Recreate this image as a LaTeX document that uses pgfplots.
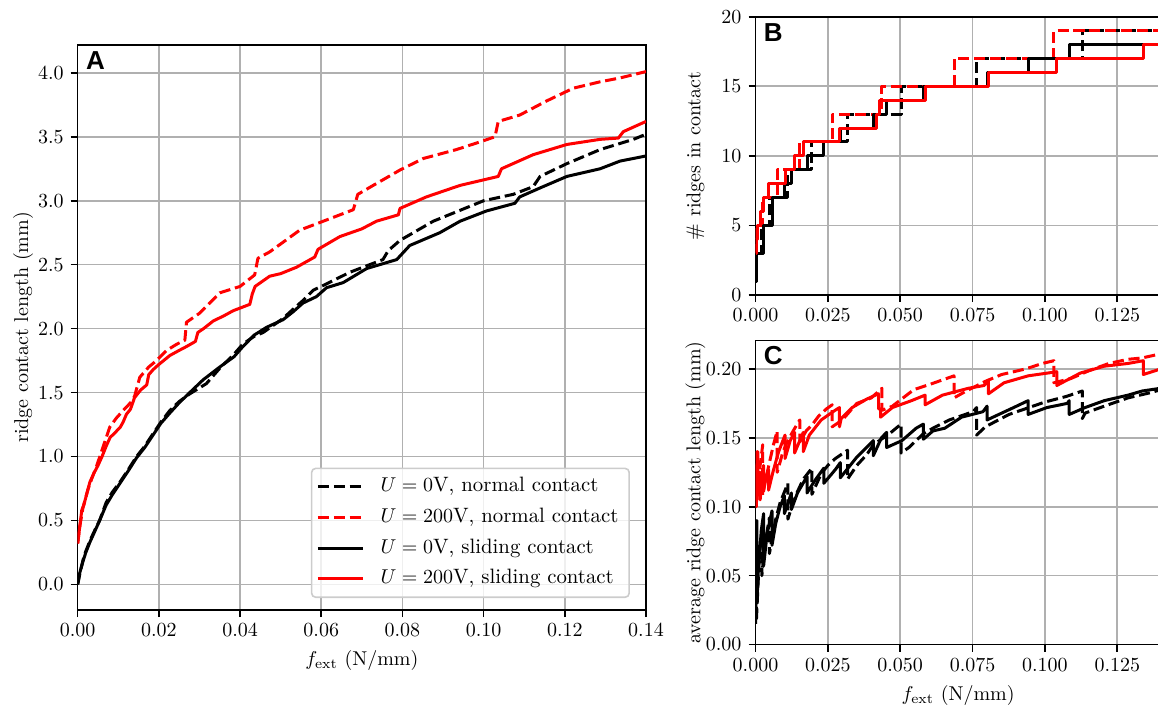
\documentclass[border=0pt]{standalone}
\usepackage{fontspec}
\usepackage{pgfplots}
\pgfplotsset{compat=1.18}
\newfontfamily\lblfont{Liberation Sans}
\definecolor{gridgray}{RGB}{176,176,176}
\definecolor{legedge}{RGB}{204,204,204}
\pgfplotsset{
  every axis/.append style={
    scale only axis,
    axis line style={line width=0.8pt},
    tick align=outside,
    major tick length=3.5pt,
    major tick style={line width=0.8pt,black},
    xtick pos=bottom, ytick pos=left,
    grid=major,
    grid style={line width=0.8pt, gridgray},
    scaled ticks=false,
    tick label style={font=\fontsize{10}{12}\selectfont},
    label style={font=\fontsize{10}{12}\selectfont},
  },
  legend image code/.code={\draw[#1] (0cm,0cm) -- (0.8cm,0cm);},
  bd/.style={black, line width=1.5pt, dash pattern=on 5.55pt off 2.4pt, line join=round},
  rd/.style={red, line width=1.5pt, dash pattern=on 5.55pt off 2.4pt, line join=round},
  bs/.style={black, line width=1.5pt, line join=round},
  rs/.style={red, line width=1.5pt, line join=round},
}
\tikzset{panellbl/.style={anchor=north west, inner sep=0pt, xshift=4pt, yshift=-3.3pt, font=\lblfont\bfseries\fontsize{13}{13}\selectfont}}
\begin{document}
\begin{tikzpicture}
% ---------------- Panel A ----------------
\begin{axis}[
  at={(38.85pt,-305pt)}, anchor=south west,
  width=284.15pt, height=282.65pt,
  xmin=0, xmax=0.14, ymin=-0.2, ymax=4.22,
  xtick={0,0.02,0.04,0.06,0.08,0.1,0.12,0.14},
  ytick={0,0.5,1,1.5,2,2.5,3,3.5,4},
  xticklabel style={/pgf/number format/.cd,fixed,fixed zerofill,precision=2},
  yticklabel style={/pgf/number format/.cd,fixed,fixed zerofill,precision=1},
  xlabel={$f_{\mathrm{ext}}$ (N/mm)},
  ylabel={ridge contact length (mm)},
  ylabel style={at={([xshift=-24.8pt]rel axis cs:0,0.5)}, anchor=base},
  legend cell align=left,
  legend style={at={(rel axis cs:0.9718,0.0212)}, anchor=south east,
    draw=legedge, line width=0.8pt, rounded corners=2pt, fill=white,
    fill opacity=0.8, text opacity=1, inner xsep=2.4pt, inner ysep=1.6pt, column sep=4.8pt,
    font=\fontsize{10.4}{12.5}\selectfont,
    nodes={inner xsep=3pt, inner ysep=2.65pt, text height=7.5pt, text depth=2.5pt}},
]
\addplot[bd] coordinates {(0,0)(0.0005,0.08)(0.0013,0.19)(0.002,0.26)(0.003,0.34)(0.004,0.41)(0.0054,0.5)(0.007,0.64)(0.0085,0.72)(0.0104,0.8)(0.0125,0.9)(0.0145,1.0)(0.0165,1.08)(0.0186,1.18)(0.0205,1.27)(0.0227,1.36)(0.025,1.43)(0.0276,1.49)(0.0317,1.57)(0.035,1.69)(0.0385,1.8)(0.0407,1.88)(0.0435,1.94)(0.0457,1.97)(0.0506,2.08)(0.053,2.15)(0.0555,2.22)(0.058,2.3)(0.0613,2.35)(0.067,2.44)(0.0752,2.54)(0.0765,2.61)(0.0794,2.69)(0.0876,2.84)(0.1,3.0)(0.1073,3.05)(0.1122,3.11)(0.1139,3.19)(0.1205,3.29)(0.1287,3.4)(0.1369,3.48)(0.14,3.52)};
\addlegendentry{$U=0$V, normal contact}
\addplot[rd] coordinates {(0,0.32)(0.0005,0.45)(0.0013,0.6)(0.0025,0.74)(0.0035,0.83)(0.0046,0.92)(0.0062,1.07)(0.0079,1.23)(0.0095,1.3)(0.0112,1.36)(0.013,1.42)(0.014,1.47)(0.0153,1.62)(0.0175,1.7)(0.0194,1.75)(0.0219,1.83)(0.0245,1.88)(0.0264,1.91)(0.0268,2.05)(0.03,2.12)(0.0325,2.2)(0.035,2.28)(0.04,2.33)(0.0436,2.42)(0.0444,2.55)(0.0473,2.6)(0.0547,2.77)(0.0605,2.84)(0.0679,2.93)(0.069,3.05)(0.0728,3.12)(0.0794,3.24)(0.0851,3.33)(0.0933,3.4)(0.0991,3.46)(0.1028,3.5)(0.1036,3.62)(0.1089,3.67)(0.1155,3.78)(0.1221,3.88)(0.1287,3.93)(0.1336,3.96)(0.14,4.01)};
\addlegendentry{$U=200$V, normal contact}
\addplot[bs] coordinates {(0,0)(0.0005,0.09)(0.0013,0.18)(0.002,0.25)(0.003,0.33)(0.004,0.4)(0.0054,0.5)(0.007,0.62)(0.0085,0.7)(0.0104,0.79)(0.0125,0.89)(0.0145,0.99)(0.0165,1.07)(0.0186,1.17)(0.0205,1.26)(0.0227,1.34)(0.025,1.42)(0.0276,1.5)(0.0309,1.6)(0.035,1.7)(0.0385,1.78)(0.0407,1.86)(0.0435,1.95)(0.0465,2.01)(0.0506,2.07)(0.053,2.13)(0.0555,2.2)(0.0588,2.25)(0.0613,2.32)(0.0654,2.36)(0.0712,2.47)(0.0786,2.54)(0.0818,2.65)(0.0892,2.75)(0.0942,2.84)(0.1007,2.92)(0.1077,2.98)(0.1089,3.03)(0.1139,3.1)(0.1205,3.19)(0.1287,3.25)(0.1336,3.31)(0.14,3.35)};
\addlegendentry{$U=0$V, sliding contact}
\addplot[rs] coordinates {(0,0.32)(0.0005,0.45)(0.001,0.58)(0.0015,0.62)(0.002,0.68)(0.0025,0.74)(0.003,0.8)(0.004,0.87)(0.005,0.93)(0.006,1.0)(0.007,1.08)(0.008,1.15)(0.009,1.18)(0.0105,1.23)(0.0112,1.27)(0.012,1.33)(0.013,1.37)(0.014,1.46)(0.0155,1.52)(0.017,1.56)(0.0175,1.64)(0.0186,1.68)(0.02,1.72)(0.0227,1.79)(0.025,1.83)(0.0268,1.86)(0.029,1.9)(0.0296,1.97)(0.031,2.0)(0.0334,2.06)(0.036,2.1)(0.0383,2.14)(0.0424,2.19)(0.043,2.27)(0.0437,2.33)(0.0473,2.41)(0.05,2.43)(0.0539,2.48)(0.0584,2.56)(0.0592,2.62)(0.0646,2.72)(0.07,2.78)(0.0736,2.84)(0.079,2.89)(0.0794,2.94)(0.0859,3.03)(0.0942,3.12)(0.1036,3.19)(0.1044,3.25)(0.1122,3.36)(0.1205,3.44)(0.1287,3.48)(0.1332,3.49)(0.1344,3.54)(0.14,3.62)};
\addlegendentry{$U=200$V, sliding contact}
\node[panellbl] at (rel axis cs:0,1) {A};
\end{axis}
% ---------------- Panel B ----------------
\begin{axis}[
  at={(377.75pt,-147.5pt)}, anchor=south west,
  width=202.6pt, height=139.15pt,
  xmin=0, xmax=0.14, ymin=0, ymax=20,
  xtick={0,0.025,0.05,0.075,0.1,0.125},
  ytick={0,5,10,15,20},
  xticklabel style={/pgf/number format/.cd,fixed,fixed zerofill,precision=3},
  ylabel={\# ridges in contact},
  ylabel style={at={([xshift=-27.6pt]rel axis cs:0,0.5)}, anchor=base},
]
\addplot[bd, const plot] coordinates {(0,1)(0.0003,3)(0.0022,5)(0.0048,7)(0.0112,9)(0.0195,11)(0.0318,13)(0.0503,15)(0.0764,17)(0.1129,19)(0.14,19)};
\addplot[rd, const plot] coordinates {(0,3)(0.0005,5)(0.0025,7)(0.0075,9)(0.0153,11)(0.0265,13)(0.0437,15)(0.0686,17)(0.1031,19)(0.14,19)};
\addplot[bs, const plot] coordinates {(0,1)(0.0005,3)(0.0028,5)(0.0057,7)(0.010,8)(0.0124,9)(0.0178,10)(0.0236,11)(0.0293,12)(0.0407,13)(0.0453,14)(0.058,15)(0.080,16)(0.0942,17)(0.1084,18)(0.14,18)};
\addplot[rs, const plot] coordinates {(0,3)(0.0003,4)(0.0008,5)(0.0016,6)(0.0028,7)(0.0045,8)(0.0102,9)(0.0135,10)(0.0165,11)(0.029,12)(0.0418,13)(0.043,14)(0.0586,15)(0.0805,16)(0.1041,17)(0.134,18)(0.14,18)};
\node[panellbl] at (rel axis cs:0,1) {B};
\end{axis}
% ---------------- Panel C ----------------
\begin{axis}[
  at={(377.75pt,-322.25pt)}, anchor=south west,
  width=202.6pt, height=152.1pt,
  xmin=0, xmax=0.14, ymin=0, ymax=0.2208,
  xtick={0,0.025,0.05,0.075,0.1,0.125},
  ytick={0,0.05,0.1,0.15,0.2},
  xticklabel style={/pgf/number format/.cd,fixed,fixed zerofill,precision=3},
  yticklabel style={/pgf/number format/.cd,fixed,fixed zerofill,precision=2},
  xlabel={$f_{\mathrm{ext}}$ (N/mm)},
  ylabel={average ridge contact length (mm)},
  ylabel style={at={([xshift=-27.6pt]rel axis cs:0,0.5)}, anchor=base},
]
\addplot[bd] coordinates {(0,0.015)(0.0003,0.05)(0.0003,0.017)(0.0008,0.04)(0.0013,0.063)(0.0022,0.083)(0.0022,0.05)(0.003,0.068)(0.004,0.082)(0.0048,0.092)(0.0048,0.066)(0.006,0.08)(0.007,0.091)(0.0085,0.103)(0.0112,0.117)(0.0112,0.091)(0.0125,0.1)(0.0145,0.111)(0.0165,0.12)(0.0195,0.128)(0.0195,0.109)(0.0227,0.124)(0.025,0.13)(0.0276,0.135)(0.0318,0.141)(0.0318,0.12)(0.035,0.13)(0.0385,0.138)(0.0407,0.145)(0.0435,0.149)(0.0457,0.152)(0.0503,0.16)(0.0503,0.139)(0.053,0.143)(0.0555,0.148)(0.058,0.153)(0.0613,0.157)(0.067,0.163)(0.0752,0.169)(0.0764,0.172)(0.0764,0.152)(0.0794,0.158)(0.0876,0.167)(0.1,0.176)(0.1073,0.18)(0.1129,0.184)(0.1129,0.164)(0.1139,0.168)(0.1205,0.173)(0.1287,0.179)(0.1369,0.183)(0.14,0.185)};
\addplot[rd] coordinates {(0,0.105)(0.0005,0.14)(0.0005,0.105)(0.0013,0.125)(0.0025,0.145)(0.0025,0.108)(0.0035,0.12)(0.0046,0.13)(0.0062,0.145)(0.0075,0.155)(0.0075,0.125)(0.0095,0.14)(0.0112,0.148)(0.013,0.155)(0.0153,0.163)(0.0153,0.147)(0.0175,0.155)(0.0194,0.159)(0.0219,0.166)(0.0245,0.171)(0.0265,0.174)(0.0265,0.158)(0.03,0.163)(0.0325,0.169)(0.035,0.175)(0.04,0.179)(0.0437,0.186)(0.0437,0.17)(0.0473,0.173)(0.0547,0.185)(0.0605,0.189)(0.0686,0.195)(0.0686,0.179)(0.0728,0.184)(0.0794,0.191)(0.0851,0.196)(0.0933,0.2)(0.0991,0.204)(0.1031,0.206)(0.1031,0.19)(0.1089,0.193)(0.1155,0.199)(0.1221,0.204)(0.1287,0.207)(0.1336,0.208)(0.14,0.211)};
\addplot[bs] coordinates {(0,0.03)(0.0003,0.07)(0.0005,0.09)(0.0005,0.03)(0.001,0.055)(0.0013,0.062)(0.002,0.083)(0.0028,0.095)(0.0028,0.057)(0.004,0.08)(0.0057,0.097)(0.0057,0.072)(0.007,0.088)(0.0085,0.1)(0.010,0.108)(0.010,0.095)(0.0124,0.11)(0.0124,0.098)(0.0145,0.11)(0.0178,0.122)(0.0178,0.11)(0.0205,0.119)(0.0236,0.128)(0.0236,0.117)(0.0276,0.127)(0.0293,0.132)(0.0293,0.121)(0.035,0.136)(0.0407,0.148)(0.0407,0.137)(0.0435,0.15)(0.0453,0.154)(0.0453,0.143)(0.0506,0.148)(0.0555,0.157)(0.058,0.16)(0.058,0.149)(0.0613,0.155)(0.0654,0.157)(0.0712,0.165)(0.0786,0.169)(0.080,0.173)(0.080,0.163)(0.0892,0.172)(0.0942,0.177)(0.0942,0.167)(0.1007,0.172)(0.1077,0.175)(0.1084,0.177)(0.1084,0.167)(0.1139,0.172)(0.1205,0.177)(0.1287,0.181)(0.1336,0.184)(0.14,0.186)};
\addplot[rs] coordinates {(0,0.107)(0.0003,0.13)(0.0003,0.1)(0.0006,0.125)(0.0008,0.14)(0.0008,0.112)(0.0012,0.12)(0.0016,0.125)(0.0016,0.105)(0.002,0.113)(0.0028,0.13)(0.0028,0.112)(0.0035,0.12)(0.0045,0.127)(0.0045,0.112)(0.006,0.125)(0.008,0.14)(0.0102,0.152)(0.0102,0.135)(0.012,0.148)(0.0135,0.154)(0.0135,0.139)(0.0165,0.154)(0.0165,0.14)(0.0186,0.152)(0.0227,0.163)(0.0268,0.169)(0.029,0.172)(0.029,0.158)(0.0296,0.164)(0.0334,0.172)(0.0383,0.178)(0.0425,0.182)(0.0425,0.171)(0.0432,0.171)(0.0432,0.165)(0.0473,0.172)(0.0539,0.177)(0.0586,0.181)(0.0586,0.174)(0.0646,0.181)(0.0736,0.186)(0.079,0.188)(0.0805,0.192)(0.0805,0.182)(0.0859,0.19)(0.0942,0.195)(0.1041,0.198)(0.1041,0.188)(0.1122,0.197)(0.1205,0.202)(0.1287,0.204)(0.134,0.206)(0.134,0.196)(0.14,0.2)};
\node[panellbl, yshift=0.6pt] at (rel axis cs:0,1) {C};
\end{axis}
\pgfresetboundingbox
\useasboundingbox (0pt,0pt) rectangle (579pt,-353.5pt);
\end{tikzpicture}
\end{document}
